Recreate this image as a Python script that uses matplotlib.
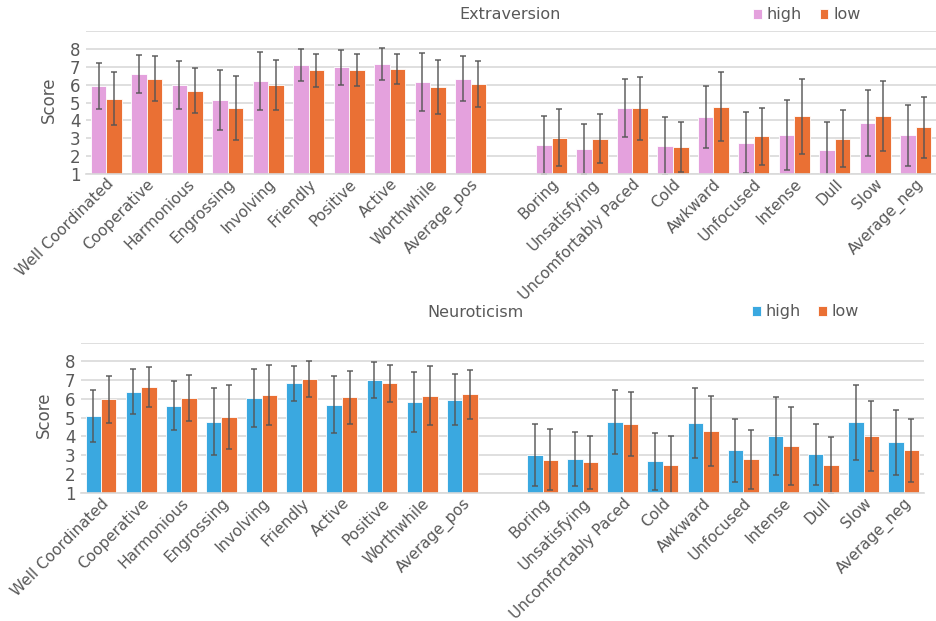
import numpy as np
import matplotlib.pyplot as plt
import matplotlib.transforms as mtransforms

# categories: positive adjectives, a blank slot, then negative adjectives
pos_extra = ['Well Coordinated', 'Cooperative', 'Harmonious', 'Engrossing', 'Involving',
             'Friendly', 'Positive', 'Active', 'Worthwhile', 'Average_pos']
pos_neuro = ['Well Coordinated', 'Cooperative', 'Harmonious', 'Engrossing', 'Involving',
             'Friendly', 'Active', 'Positive', 'Worthwhile', 'Average_pos']
neg_labels = ['Boring', 'Unsatisfying', 'Uncomfortably Paced', 'Cold', 'Awkward',
              'Unfocused', 'Intense', 'Dull', 'Slow', 'Average_neg']

# Extraversion means and standard deviations
extra_high = [5.95, 6.61, 5.99, 5.15, 6.22, 7.12, 6.99, 7.17, 6.16, 6.35,
              2.62, 2.39, 4.70, 2.54, 4.19, 2.74, 3.19, 2.33, 3.85, 3.16]
extra_high_sd = [1.30, 1.08, 1.37, 1.68, 1.64, 0.90, 0.98, 0.90, 1.65, 1.28,
                 1.64, 1.42, 1.61, 1.63, 1.76, 1.71, 1.98, 1.60, 1.85, 1.70]
extra_low = [5.22, 6.35, 5.67, 4.70, 5.99, 6.82, 6.82, 6.89, 5.86, 6.05,
             3.03, 2.97, 4.68, 2.49, 4.77, 3.10, 4.23, 2.97, 4.23, 3.61]
extra_low_sd = [1.50, 1.28, 1.26, 1.82, 1.39, 0.94, 0.90, 0.85, 1.51, 1.29,
                1.60, 1.39, 1.78, 1.42, 1.94, 1.60, 2.12, 1.62, 1.96, 1.72]

# Neuroticism means and standard deviations
neuro_high = [5.10, 6.38, 5.65, 4.79, 6.04, 6.84, 5.68, 7.02, 5.86, 5.97,
              3.01, 2.80, 4.76, 2.67, 4.71, 3.26, 4.03, 3.05, 4.76, 3.69]
neuro_high_sd = [1.39, 1.20, 1.33, 1.77, 1.54, 0.94, 1.52, 0.95, 1.60, 1.36,
                 1.64, 1.43, 1.70, 1.54, 1.86, 1.69, 2.09, 1.64, 2.00, 1.73]
neuro_low = [5.99, 6.63, 6.04, 5.04, 6.20, 7.06, 6.08, 6.84, 6.17, 6.25,
             2.75, 2.62, 4.67, 2.46, 4.28, 2.78, 3.48, 2.46, 4.03, 3.26]
neuro_low_sd = [1.25, 1.08, 1.24, 1.72, 1.60, 0.94, 1.42, 0.98, 1.58, 1.31,
                1.63, 1.40, 1.69, 1.58, 1.86, 1.59, 2.08, 1.51, 1.88, 1.69]

PINK = '#E4A1DD'
ORANGE = '#EA7034'
BLUE = '#3AA8E0'
TEXT = '#595959'
GRID = '#D9D9D9'

plt.rcParams['font.family'] = ['DejaVu Sans']


def panel(ax, labels, high, high_sd, low, low_sd, c_high, title, title_x, title_dy,
          leg_x, leg_y):
    # bar slots with an empty slot between the two groups
    xs = np.array(list(range(10)) + list(range(11, 21)))
    w = 0.385
    bottom = 1
    ekw = dict(ecolor='#555555', elinewidth=1.2, capsize=2.5, capthick=1.2, alpha=0.85)
    ax.bar(xs - w / 2, np.array(high) - bottom, w, bottom=bottom, yerr=high_sd,
           color=c_high, edgecolor='white', linewidth=0.6, error_kw=ekw, label='high')
    ax.bar(xs + w / 2, np.array(low) - bottom, w, bottom=bottom, yerr=low_sd,
           color=ORANGE, edgecolor='white', linewidth=0.6, error_kw=ekw, label='low')
    ax.set_xlim(-0.5, 20.5)
    ax.set_ylim(1, 9)
    ax.set_yticks(range(1, 10))
    ax.set_yticklabels([str(i) for i in range(1, 9)] + [''])
    ax.set_xticks(xs)
    ax.set_xticklabels(labels, rotation=45, ha='right', rotation_mode='anchor',
                       fontsize=11, color=TEXT)
    # nudge the slanted labels a little to the right
    shift = mtransforms.ScaledTranslation(4 / 100, 0, fig.dpi_scale_trans)
    for lab in ax.get_xticklabels():
        lab.set_transform(lab.get_transform() + shift)
    ax.tick_params(axis='x', length=0, pad=2)
    ax.tick_params(axis='y', length=0, labelsize=12, labelcolor=TEXT, pad=4)
    ax.grid(axis='y', color=GRID, linewidth=1.2)
    ax.set_axisbelow(True)
    for s in ['top', 'right', 'left']:
        ax.spines[s].set_visible(False)
    ax.spines['bottom'].set_color(GRID)
    ax.spines['bottom'].set_linewidth(1.2)
    ax.set_ylabel('Score', fontsize=12, color=TEXT)
    ax.yaxis.set_label_coords(-0.033, 0.52)
    fig.text(title_x, ax.get_position().y1 + title_dy, title, fontsize=11.5,
             color=TEXT, ha='center', va='center')
    ax.legend(loc='center left', bbox_to_anchor=(leg_x, leg_y), ncol=2, frameon=False,
              fontsize=11.5, labelcolor=TEXT, handlelength=0.55, handleheight=0.55,
              handletextpad=0.3, columnspacing=1.1, borderaxespad=0, borderpad=0)


fig = plt.figure(figsize=(9.36, 6.21), dpi=100)
ax1 = fig.add_axes([0.092, 0.7203, 0.908, 0.229])
ax2 = fig.add_axes([0.0865, 0.2066, 0.9005, 0.2415])

panel(ax1, pos_extra + neg_labels, extra_high, extra_high_sd, extra_low, extra_low_sd,
      PINK, 'Extraversion', 0.545, 0.0266, 0.785, 1.116)
panel(ax2, pos_neuro + neg_labels, neuro_high, neuro_high_sd, neuro_low, neuro_low_sd,
      BLUE, 'Neuroticism', 0.508, 0.0494, 0.796, 1.205)

fig.savefig('out.png', dpi=100)
